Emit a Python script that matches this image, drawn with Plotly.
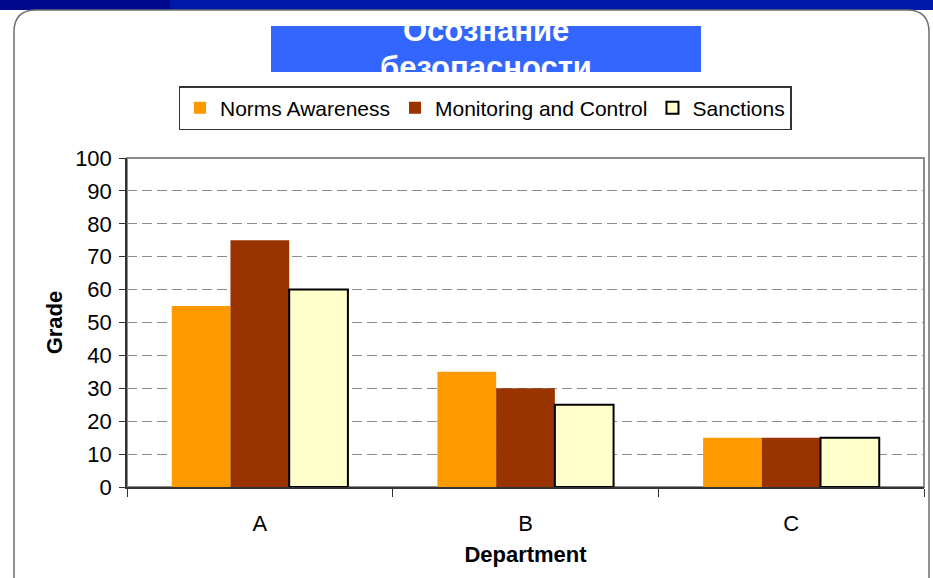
import plotly.graph_objects as go

departments = ['A', 'B', 'C']
norms_awareness = [55, 35, 15]
monitoring_control = [75, 30, 15]
sanctions = [60, 25, 15]

W, H = 933, 578
L, R, T, B = 127, 9, 158, 91
pw, ph = W - L - R, H - T - B


def px(x):  # pixel x -> paper
    return (x - L) / pw


def py(y):  # pixel y -> paper
    return 1 - (y - T) / ph


FONT = 'Liberation Sans, Arial, sans-serif'

fig = go.Figure()
fig.add_bar(x=departments, y=norms_awareness, name='Norms Awareness',
            marker=dict(color='#FF9900', line=dict(width=0)))
fig.add_bar(x=departments, y=monitoring_control, name='Monitoring and Control',
            marker=dict(color='#993300', line=dict(width=0)))
fig.add_bar(x=departments, y=sanctions, name='Sanctions',
            marker=dict(color='#FFFFCC', line=dict(color='black', width=2)))

# rounded white panel outline
r = 22
x0, x1, y0, y1 = 14, 929, 10, 600
panel = (f'M {px(x0)} {py(y1)} L {px(x0)} {py(y0 + r)} '
         f'Q {px(x0)} {py(y0)} {px(x0 + r)} {py(y0)} '
         f'L {px(x1 - r)} {py(y0)} Q {px(x1)} {py(y0)} {px(x1)} {py(y0 + r)} '
         f'L {px(x1)} {py(y1)}')

shapes = [
    # top blue band
    dict(type='rect', xref='paper', yref='paper', x0=px(0), x1=px(170), y0=py(10), y1=py(0),
         fillcolor='#00088C', line=dict(width=0), layer='below'),
    dict(type='rect', xref='paper', yref='paper', x0=px(170), x1=px(933), y0=py(10), y1=py(0),
         fillcolor='#0018A8', line=dict(width=0), layer='below'),
    dict(type='path', xref='paper', yref='paper', path=panel,
         line=dict(color='#6E6E6E', width=1.5), layer='below'),
    # title box
    dict(type='rect', xref='paper', yref='paper', x0=px(271), x1=px(701), y0=py(72), y1=py(26),
         fillcolor='#3366FF', line=dict(width=0), layer='below'),
    # plot area frame
    dict(type='rect', xref='paper', yref='paper', x0=0, x1=1, y0=0, y1=1,
         line=dict(color='#8C8C8C', width=2), layer='below'),
]

annotations = [
    dict(text='<b>Осознание</b>', xref='paper', yref='paper', x=px(486), y=py(30.5),
         xanchor='center', yanchor='middle', showarrow=False,
         font=dict(family=FONT, size=31, color='white')),
    dict(text='<b>безопасности</b>', xref='paper', yref='paper', x=px(486), y=py(67.5),
         xanchor='center', yanchor='middle', showarrow=False,
         font=dict(family=FONT, size=31, color='white')),
]

fig.update_layout(
    width=W, height=H,
    margin=dict(l=L, r=R, t=T, b=B),
    paper_bgcolor='white', plot_bgcolor='white',
    font=dict(family=FONT, size=22, color='black'),
    barmode='group', bargap=0.337, bargroupgap=0,
    shapes=shapes, annotations=annotations,
    showlegend=True,
    legend=dict(orientation='h', x=px(485), y=py(86), xanchor='center', yanchor='top',
                bordercolor='#333333', borderwidth=1.5, bgcolor='white',
                font=dict(size=21), itemwidth=30, tracegroupgap=0),
    xaxis=dict(type='category', tickson='boundaries', ticks='outside', ticklen=8,
               tickcolor='#333333', showline=True, linecolor='#333333', linewidth=1.5,
               showgrid=False, ticklabelstandoff=16, tickfont=dict(size=22),
               title=dict(text='<b>Department</b>', font=dict(size=22), standoff=11)),
    yaxis=dict(range=[0, 100], dtick=10, ticks='outside', ticklen=6, tickcolor='#333333',
               showline=True, linecolor='#333333', linewidth=1.5,
               showgrid=True, gridcolor='#8C8C8C', gridwidth=1, griddash='10px,5px',
               zeroline=False, tickfont=dict(size=22), ticklabelstandoff=3,
               title=dict(text='<b>Grade</b>', font=dict(size=22), standoff=6)),
)

fig.write_html('out.html', config={'displayModeBar': False},
               post_script="document.body.style.margin='0';")
